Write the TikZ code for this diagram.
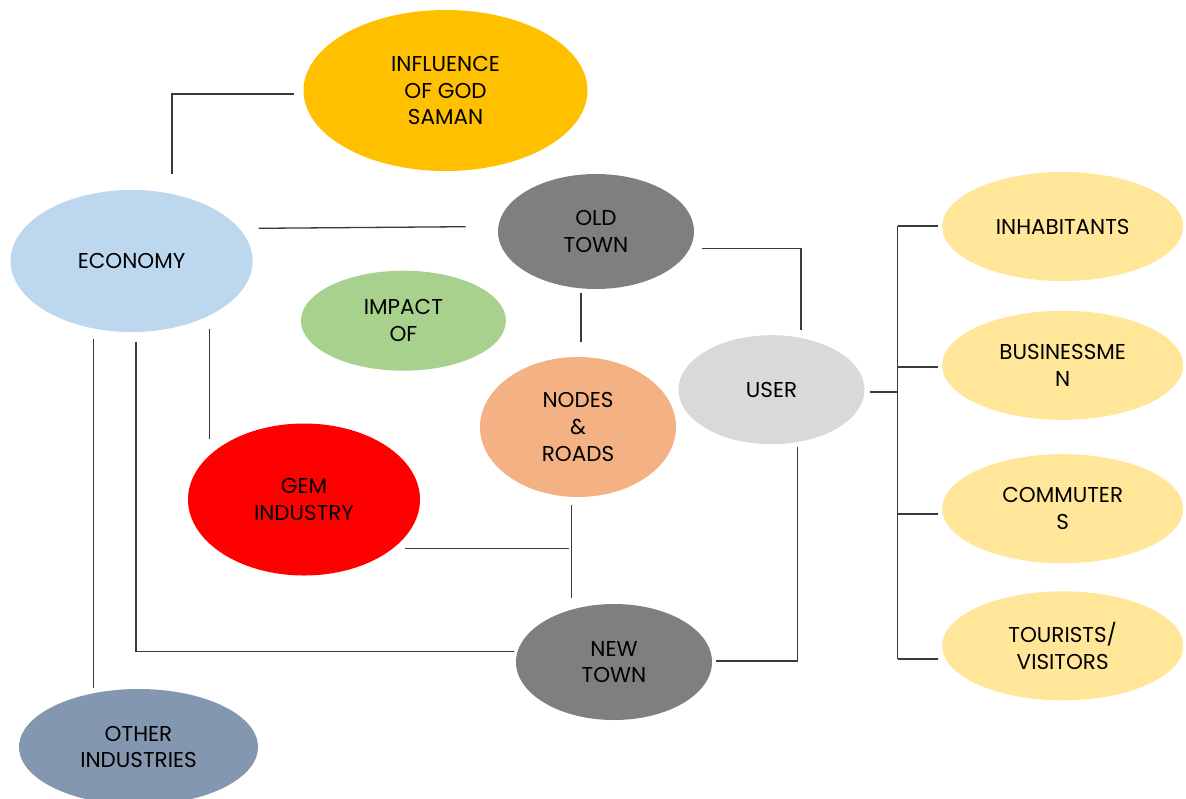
\documentclass[tikz,border=0pt]{standalone}
\usepackage{fontspec}
\setmainfont{Poppins}
\usetikzlibrary{shapes.geometric}
\definecolor{cGold}{HTML}{FFC000}
\definecolor{cEco}{HTML}{BDD7EE}
\definecolor{cImp}{HTML}{A9D18E}
\definecolor{cTown}{HTML}{7F7F7F}
\definecolor{cNodes}{HTML}{F4B183}
\definecolor{cUser}{HTML}{D9D9D9}
\definecolor{cGem}{HTML}{FF0000}
\definecolor{cOther}{HTML}{8497B0}
\definecolor{cYel}{HTML}{FFE699}
\definecolor{cLine}{HTML}{3A3A3A}
\begin{document}
\begin{tikzpicture}[x=1pt,y=-1pt,
  bub/.style={ellipse, inner sep=0pt, align=center, text=black,
    font=\fontsize{21.5}{26.7}\selectfont},
  link/.style={draw=cLine, line width=1.3pt}]
\clip (0,0) rectangle (1186,798);
\fill[white] (0,0) rectangle (1186,798);
% nodes
\node[bub, fill=cGold, minimum width=284, minimum height=161] (infl) at (445.5,90.5) {INFLUENCE\\OF GOD\\SAMAN};
\node[bub, fill=cEco, minimum width=242, minimum height=142] (eco) at (131.6,261) {ECONOMY};
\node[bub, fill=cImp, minimum width=205, minimum height=100] (imp) at (403.4,320.7) {IMPACT\\OF};
\node[bub, fill=cTown, minimum width=196, minimum height=115] (old) at (596,231.5) {OLD\\TOWN};
\node[bub, fill=cNodes, minimum width=196, minimum height=140] (nodes) at (578,427) {NODES\\\&\\ROADS};
\node[bub, fill=cUser, minimum width=186, minimum height=109] (user) at (771.5,389.7) {USER};
\node[bub, fill=cGem, minimum width=232, minimum height=152] (gem) at (304,499.5) {GEM\\INDUSTRY};
\node[bub, fill=cTown, minimum width=196, minimum height=116] (new) at (614,662) {NEW\\TOWN};
\node[bub, fill=cOther, minimum width=239, minimum height=116] (other) at (138.5,747) {OTHER\\INDUSTRIES};
\node[bub, fill=cYel, minimum width=241, minimum height=109] (inh) at (1062.7,226.5) {INHABITANTS};
\node[bub, fill=cYel, minimum width=241, minimum height=109] (bus) at (1062.7,365.3) {BUSINESSME\\N};
\node[bub, fill=cYel, minimum width=241, minimum height=109] (com) at (1062.7,508.7) {COMMUTER\\S};
\node[bub, fill=cYel, minimum width=241, minimum height=109] (tou) at (1062.7,645.8) {TOURISTS/\\VISITORS};
% connector end points
\coordinate (ecoTop) at (172,174);
\coordinate (inflW) at (293.5,94);
\coordinate (ecoE) at (258.7,228.3);
\coordinate (oldW) at (465.7,226.7);
\coordinate (ecoB1) at (93.8,339);
\coordinate (otherT) at (93.8,688);
\coordinate (ecoB2) at (135.9,341.7);
\coordinate (newW) at (513.6,651.7);
\coordinate (ecoB3) at (209.7,329);
\coordinate (gemT) at (209.7,439.3);
\coordinate (oldB) at (581,293);
\coordinate (nodesT) at (581,341.7);
\coordinate (gemE) at (405,548.7);
\coordinate (jGN) at (569,548.7);
\coordinate (nodesB) at (571.8,505);
\coordinate (newT) at (571.8,598.3);
\coordinate (newE) at (715.8,661);
\coordinate (userB) at (797.3,446.7);
\coordinate (oldE) at (702,248.7);
\coordinate (userT) at (801,330);
\coordinate (userE) at (869.8,392);
\coordinate (brT) at (897.5,226);
\coordinate (brB) at (897.5,659);
\coordinate (inhW) at (938,226);
\coordinate (busW) at (938,367);
\coordinate (comW) at (938,514);
\coordinate (touW) at (938,659);
% connectors
\draw[link] (ecoTop) |- (inflW);
\draw[link] (ecoE) -- (oldW);
\draw[link] (ecoB1) -- (otherT);
\draw[link] (ecoB2) |- (newW);
\draw[link] (ecoB3) -- (gemT);
\draw[link] (oldB) -- (nodesT);
\draw[link] (gemE) -- (jGN);
\draw[link] (nodesB) -- (newT);
\draw[link] (newE) -| (userB);
\draw[link] (oldE) -| (userT);
\draw[link] (userE) -- (userE -| brT);
\draw[link] (brT) -- (brB);
\draw[link] (brT) -- (inhW);
\draw[link] (brT |- busW) -- (busW);
\draw[link] (brT |- comW) -- (comW);
\draw[link] (brB) -- (touW);
\end{tikzpicture}
\end{document}
